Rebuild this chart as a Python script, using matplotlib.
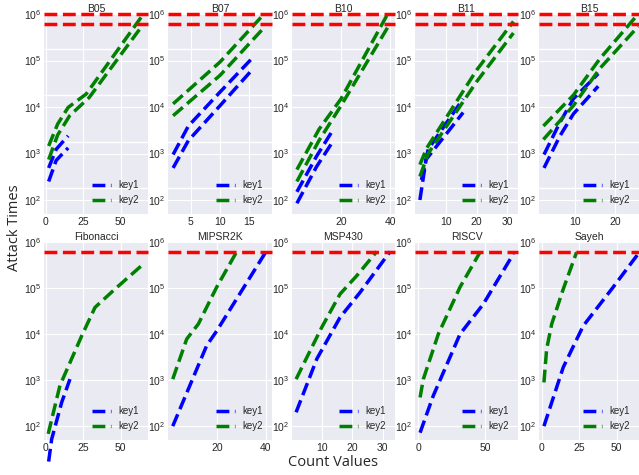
import matplotlib
matplotlib.use('Agg')
import matplotlib.pyplot as plt

plt.style.use('seaborn-v0_8-darkgrid')
plt.rcParams['font.family'] = ['Liberation Sans', 'DejaVu Sans']
plt.rcParams['mathtext.fontset'] = 'custom'
plt.rcParams['mathtext.rm'] = 'Liberation Sans'
plt.rcParams['mathtext.it'] = 'Liberation Sans:italic'
plt.rcParams['mathtext.bf'] = 'Liberation Sans:bold'

# ---- top row (each key drawn twice) ----
top_titles = ['B05', 'B07', 'B10', 'B11', 'B15']
top_limits = [1000000, 600000]

b05_key1_a = ([2, 7, 15], [490, 1230, 2400])
b05_key1_b = ([2, 7, 15], [250, 710, 1320])
b05_key2_a = ([2, 8, 15, 27, 65], [1450, 4300, 9800, 19000, 980000])
b05_key2_b = ([2, 8, 16, 29, 64], [740, 2500, 6500, 16000, 540000])

b07_key1_a = ([2, 4.6, 10, 15.7], [950, 3900, 21000, 120000])
b07_key1_b = ([2, 4.6, 10, 15.7], [490, 1900, 10700, 68000])
b07_key2_a = ([2, 10, 17.5], [11700, 93000, 1000000])
b07_key2_b = ([2, 10, 17.5], [6500, 48000, 510000])

b10_key1_a = ([2, 10, 16], [150, 870, 2800])
b10_key1_b = ([2, 10, 16], [85, 520, 1600])
b10_key2_a = ([2, 11, 20, 39], [450, 3300, 15000, 1000000])
b10_key2_b = ([2, 11, 20, 40], [250, 1900, 10700, 630000])

b11_key1_a = ([2, 4.2, 15.6], [270, 1230, 15000])
b11_key1_b = ([1.5, 3.5, 15.6], [100, 740, 7600])
b11_key2_a = ([1.5, 3.7, 20, 32], [575, 1300, 62000, 690000])
b11_key2_b = ([1.5, 4.2, 20, 32], [320, 1000, 35000, 390000])

b15_key1_a = ([2.25, 6.25, 9.6, 15.8], [950, 4700, 15000, 52000])
b15_key1_b = ([2.25, 6.25, 9.6, 15.8], [490, 2400, 7100, 28000])
b15_key2_a = ([2.1, 9.6, 16.25, 25.8], [3900, 18000, 110000, 1000000])
b15_key2_b = ([2.1, 9.6, 16.25, 25.8], [2000, 10700, 68000, 540000])

# ---- bottom row ----
bottom_titles = ['Fibonacci', 'MIPSR2K', 'MSP430', 'RISCV', 'Sayeh']
bottom_limits = [600000]

fib_key1 = ([2, 4, 10.7, 16.2], [17, 52, 330, 1050])
fib_key2 = ([1.7, 9.5, 16.2, 24, 32.9, 46.2, 65],
            [68, 760, 2400, 9100, 38000, 95000, 330000])

mips_key1 = ([1.65, 15.6, 19.75, 40.3], [100, 5600, 11700, 650000])
mips_key2 = ([1.65, 7.4, 12.2, 19.75, 28], [1050, 7800, 16600, 105000, 620000])

msp_key1 = ([1.6, 8.4, 16, 22.6, 32.4], [200, 2900, 23000, 81000, 620000])
msp_key2 = ([1.6, 10, 16, 21.5, 28], [1050, 14000, 74000, 186000, 620000])

riscv_key1 = ([1.3, 11.25, 31.3, 48.8, 71.3], [72, 460, 10000, 45000, 550000])
riscv_key2 = ([1.3, 3.75, 15, 31.3, 46.3], [420, 1050, 10000, 105000, 600000])

sayeh_key1 = ([1.5, 14.4, 27.7, 47.8, 64.4], [100, 1900, 15000, 105000, 550000])
sayeh_key2 = ([1.5, 3.3, 6.7, 14.4, 23.3], [890, 4700, 16600, 95000, 600000])

top_key1 = [[b05_key1_a, b05_key1_b], [b07_key1_a, b07_key1_b], [b10_key1_a, b10_key1_b],
            [b11_key1_a, b11_key1_b], [b15_key1_a, b15_key1_b]]
top_key2 = [[b05_key2_a, b05_key2_b], [b07_key2_a, b07_key2_b], [b10_key2_a, b10_key2_b],
            [b11_key2_a, b11_key2_b], [b15_key2_a, b15_key2_b]]
bottom_key1 = [[fib_key1], [mips_key1], [msp_key1], [riscv_key1], [sayeh_key1]]
bottom_key2 = [[fib_key2], [mips_key2], [msp_key2], [riscv_key2], [sayeh_key2]]

top_xlims = [(-1.1, 68.2), (1.13, 18.85), (0, 42), (-0.1, 33.5), (1, 26)]
top_xticks = [[0, 25, 50], [5, 10, 15], [20, 40], [10, 20, 30], [10, 20]]
bottom_xlims = [(-1.1, 68.2), (-0.3, 42.5), (0.26, 34), (-2.5, 74.8), (-1.8, 65)]
bottom_xticks = [[0, 25, 50], [20, 40], [10, 20, 30], [0, 50], [0, 25, 50]]

# pixel layout of the panels
W, H = 639, 475
col_left = [44, 168, 292, 415, 539]
col_width = [104, 104, 103, 103, 100]
rows = [(14, 214), (242, 440)]


def draw(ax, key1, key2, limits, xlim, xticks, title, doubled):
    for i, (x, y) in enumerate(key1):
        ax.plot(x, y, 'b--', lw=2.5, label='key1' if i == 0 else None, clip_on=False)
    for i, (x, y) in enumerate(key2):
        ax.plot(x, y, 'g--', lw=2.5, label='key2' if i == 0 else None, clip_on=False)
    for lim in limits:
        ax.axhline(lim, color='r', ls='--', lw=2.5, clip_on=False)
    ax.set_yscale('log')
    ax.set_ylim(50, 1000000)
    ax.set_xlim(*xlim)
    ax.set_xticks(xticks)
    if doubled:
        ax.set_yticks([180, 1800, 18000, 180000], minor=True)
        ax.grid(which='minor', axis='y', color='white', lw=1)
    ax.tick_params(which='both', labelsize=7.5, pad=2, length=0)
    ax.set_title(title, fontsize=7.5, pad=1)
    ax.legend(loc='lower right', fontsize=7, frameon=False)


fig = plt.figure(figsize=(W / 100, H / 100), dpi=100)
for r, (top, bottom) in enumerate(rows):
    for c in range(5):
        ax = fig.add_axes([col_left[c] / W, 1 - bottom / H, col_width[c] / W, (bottom - top) / H])
        if r == 0:
            draw(ax, top_key1[c], top_key2[c], top_limits, top_xlims[c], top_xticks[c],
                 top_titles[c], True)
        else:
            draw(ax, bottom_key1[c], bottom_key2[c], bottom_limits, bottom_xlims[c],
                 bottom_xticks[c], bottom_titles[c], False)

fig.text(333 / W, 1 - 463 / H, 'Count Values', ha='center', va='center',
         fontsize=10.5, family='Open Sans')
fig.text(15 / W, 1 - 228 / H, 'Attack Times', ha='center', va='center', rotation=90,
         fontsize=10.5, family='Open Sans')

fig.savefig('out.png', dpi=100)
